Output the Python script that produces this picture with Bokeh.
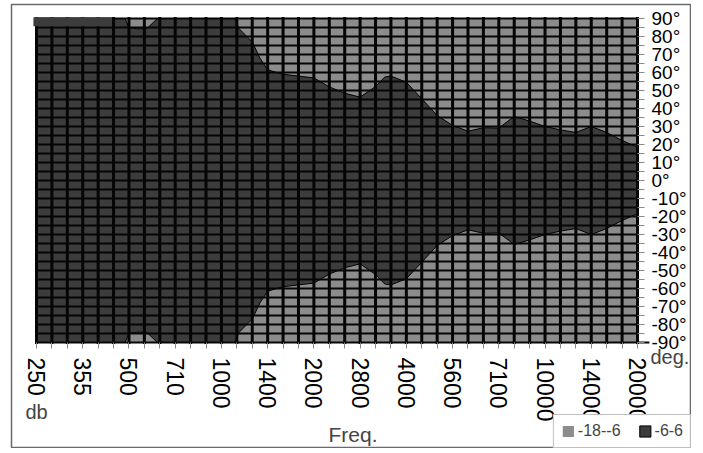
from bokeh.plotting import figure
from bokeh.models import Range1d, FixedTicker, Label, Legend, LegendItem
from bokeh.embed import file_html
from bokeh.resources import INLINE

# ---------------- data ----------------
freq_labels = ["250", "355", "500", "710", "1000", "1400", "2000", "2800",
               "4000", "5600", "7100", "10000", "14000", "20000"]
steps_per_label = 3                      # grid columns between labelled frequencies
angle_ticks = list(range(-90, 91, 5))    # degrees
angle_label_step = 10

# -6 dB contour (upper half, lower half symmetric); position in grid steps from 250 Hz
beam_pos = [0, 5.75, 6.0, 6.5, 7.15, 7.85, 12.85, 13.15, 14, 14.5, 15, 16, 17, 18,
            19, 20, 21, 22, 22.6, 23, 24, 25, 26, 27, 28, 29, 30, 31, 32, 33, 34,
            35, 36, 37, 38, 39]
beam_upper_deg = [90, 90, 85, 84.3, 84.3, 90, 90, 84.3, 77, 68, 61.5, 59, 58, 57,
                  52, 48.5, 46.3, 52.2, 57.5, 58, 54.6, 45.4, 36.1, 30.6, 27.4, 29.3,
                  29.1, 35.6, 33, 30, 28.1, 26.7, 30, 26.7, 22.2, 18.5]

level_labels = ["-18--6", "-6-6"]

# ---------------- style ----------------
dark = "#3c3c3c"
light = "#8c8c8c"
font = "Liberation Sans"

n_steps = (len(freq_labels) - 1) * steps_per_label
x_ticks = list(range(n_steps + 1))
a_min, a_max = min(angle_ticks), max(angle_ticks)

# frame = whole bordered box; grid area placed inside it by the ranges
FW, FH = 680, 444
px_x = 601 / n_steps          # pixels per grid step
px_y = 324 / (a_max - a_min)  # pixels per degree
x0_off, y0_off = 25, 14       # grid area offset inside frame (px)
x_range = Range1d(-x0_off / px_x, (FW - x0_off) / px_x)
y_range = Range1d(a_max - (FH - y0_off) / px_y, a_max + y0_off / px_y)

p = figure(frame_width=FW, frame_height=FH, x_range=x_range, y_range=y_range,
           y_axis_location="right", output_backend="svg", toolbar_location=None,
           min_border_left=11, min_border_right=0, min_border_top=4,
           min_border_bottom=0, outline_line_color="#6a6a6a", outline_line_width=1.5,
           border_fill_color="white", background_fill_color="white")
p.grid.visible = False

# background level (-18..-6)
bg = p.quad(left=[x_ticks[0]], right=[x_ticks[-1]], bottom=[a_min], top=[a_max],
            fill_color=light, line_color=None)

# -6..6 region
xs = beam_pos + beam_pos[::-1]
ys = beam_upper_deg + [-v for v in beam_upper_deg[::-1]]
dk = p.patch(xs, ys, fill_color=dark, line_color="black", line_width=1)

# grid lines on top
p.segment(x0=x_ticks, x1=x_ticks, y0=[a_min] * len(x_ticks), y1=[a_max] * len(x_ticks),
          line_color="#050505", line_width=3, line_cap="square")
hx1 = [x_ticks[-1]] * len(angle_ticks)
hx1[0] = x_ticks[-1] + 0.7
p.segment(x0=[x_ticks[0]] * len(angle_ticks), x1=hx1, y0=angle_ticks, y1=angle_ticks,
          line_color="#050505", line_width=2.2, line_cap="square")

# gridless top strip at left
p.quad(left=[x_ticks[0] - 0.2], right=[x_ticks[5] - 0.1], bottom=[angle_ticks[-2] + 0.65],
       top=[a_max + 0.7], fill_color=dark, line_color=None)

# x axis (fixed at the bottom of the grid)
xa = p.xaxis[0]
xa.fixed_location = a_min
xa.ticker = FixedTicker(ticks=x_ticks)
xa.major_label_overrides = {t: (freq_labels[t // steps_per_label] if t % steps_per_label == 0 else "")
                            for t in x_ticks}
xa.major_label_orientation = "vertical"
xa.major_tick_out = 6
xa.major_tick_in = 0
xa.minor_tick_out = 0
xa.axis_line_color = None
xa.major_tick_line_color = "#8a8a8a"
xa.major_label_text_font = font
xa.major_label_text_font_size = "23px"
xa.major_label_text_color = "black"
xa.major_label_standoff = 9

# y axis (fixed at the right of the grid)
ya = p.yaxis[0]
ya.fixed_location = x_ticks[-1]
ya.ticker = FixedTicker(ticks=angle_ticks)
ya.major_label_overrides = {t: (f"{t}°" if t % angle_label_step == 0 else "") for t in angle_ticks}
ya.major_tick_out = 7
ya.major_tick_in = 0
ya.minor_tick_out = 0
ya.axis_line_color = None
ya.major_tick_line_color = "#8a8a8a"
ya.major_label_text_font = font
ya.major_label_text_font_size = "19px"
ya.major_label_text_color = "black"
ya.major_label_standoff = 7


def deg_at(py):
    """angle value at a page pixel row (for text placement)"""
    return a_max - (py - 18) / px_y


def pos_at(px):
    return (px - 36) / px_x


# texts (placed by their vertical centre)
p.add_layout(Label(x=pos_at(25), y=deg_at(411), text="db", text_font=font, text_font_size="20px",
                   text_baseline="middle"))
p.add_layout(Label(x=pos_at(328), y=deg_at(434), text="Freq.", text_font=font, text_font_size="21px",
                   text_baseline="middle"))
p.add_layout(Label(x=pos_at(650), y=deg_at(356), text="deg.", text_font=font, text_font_size="20px",
                   text_baseline="middle"))

legend = Legend(items=[LegendItem(label=level_labels[0], renderers=[bg]),
                       LegendItem(label=level_labels[1], renderers=[dk])],
                orientation="horizontal", location="bottom_right",
                glyph_width=14, glyph_height=14, label_height=14, label_standoff=3,
                spacing=17, padding=7, margin=0, border_line_color="#808080",
                label_text_font=font, label_text_font_size="16px",
                background_fill_color="white", background_fill_alpha=1)
p.add_layout(legend)

open("out.html", "w").write(file_html(p, INLINE))
